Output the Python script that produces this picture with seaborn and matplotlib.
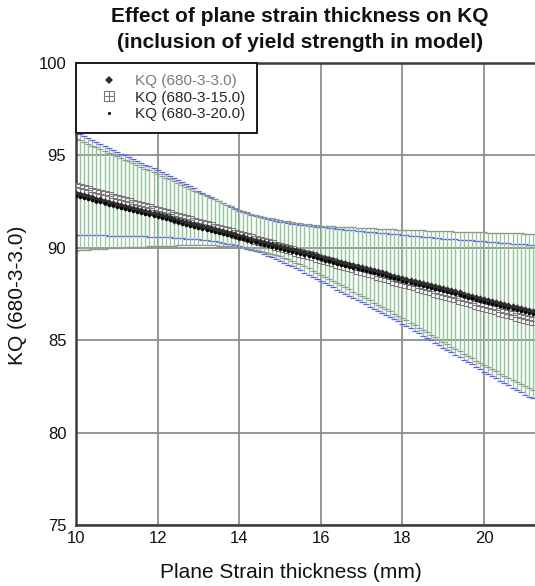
import numpy as np
import pandas as pd
import matplotlib
matplotlib.use("Agg")
import matplotlib.pyplot as plt
import seaborn as sns
from matplotlib.lines import Line2D

# Plane strain thickness (mm), one sample every 0.1 mm
thickness = np.round(np.arange(10.0, 21.25, 0.1), 1)

# KQ (680-3-3.0) predictions
kq_3 = [92.90, 92.84, 92.79, 92.73, 92.67, 92.61, 92.56, 92.50, 92.44, 92.39,
        92.33, 92.27, 92.21, 92.16, 92.10, 92.04, 91.99, 91.93, 91.87, 91.81,
        91.76, 91.70, 91.64, 91.59, 91.53, 91.47, 91.41, 91.36, 91.30, 91.24,
        91.19, 91.13, 91.07, 91.01, 90.96, 90.90, 90.84, 90.79, 90.73, 90.67,
        90.61, 90.56, 90.50, 90.44, 90.39, 90.33, 90.27, 90.21, 90.16, 90.10,
        90.04, 89.99, 89.93, 89.87, 89.81, 89.76, 89.70, 89.64, 89.59, 89.53,
        89.47, 89.41, 89.36, 89.30, 89.24, 89.19, 89.13, 89.07, 89.01, 88.96,
        88.90, 88.84, 88.79, 88.73, 88.67, 88.61, 88.56, 88.50, 88.44, 88.39,
        88.33, 88.27, 88.21, 88.16, 88.10, 88.04, 87.99, 87.93, 87.87, 87.81,
        87.76, 87.70, 87.64, 87.59, 87.53, 87.47, 87.41, 87.36, 87.30, 87.24,
        87.19, 87.13, 87.07, 87.01, 86.96, 86.90, 86.84, 86.79, 86.73, 86.67,
        86.61, 86.56, 86.50]

# KQ (680-3-15.0) predictions
kq_15 = [93.30, 93.24, 93.17, 93.11, 93.04, 92.98, 92.91, 92.85, 92.78, 92.72,
         92.65, 92.59, 92.52, 92.46, 92.39, 92.33, 92.26, 92.20, 92.13, 92.07,
         92.00, 91.94, 91.87, 91.81, 91.74, 91.68, 91.61, 91.55, 91.48, 91.42,
         91.35, 91.29, 91.22, 91.16, 91.09, 91.03, 90.96, 90.90, 90.83, 90.77,
         90.70, 90.64, 90.57, 90.51, 90.44, 90.38, 90.31, 90.25, 90.18, 90.12,
         90.05, 89.99, 89.92, 89.86, 89.79, 89.73, 89.66, 89.60, 89.53, 89.47,
         89.40, 89.34, 89.27, 89.21, 89.14, 89.08, 89.01, 88.95, 88.88, 88.82,
         88.75, 88.69, 88.62, 88.56, 88.49, 88.43, 88.36, 88.30, 88.23, 88.17,
         88.10, 88.04, 87.97, 87.91, 87.84, 87.78, 87.71, 87.65, 87.58, 87.52,
         87.45, 87.39, 87.32, 87.26, 87.19, 87.13, 87.06, 87.00, 86.93, 86.87,
         86.80, 86.74, 86.67, 86.61, 86.54, 86.48, 86.41, 86.35, 86.28, 86.22,
         86.15, 86.09, 86.02]

# KQ (680-3-20.0) predictions
kq_20 = [92.80, 92.74, 92.69, 92.63, 92.57, 92.51, 92.46, 92.40, 92.34, 92.29,
         92.23, 92.17, 92.11, 92.06, 92.00, 91.94, 91.89, 91.83, 91.77, 91.71,
         91.66, 91.60, 91.54, 91.49, 91.43, 91.37, 91.31, 91.26, 91.20, 91.14,
         91.09, 91.03, 90.97, 90.91, 90.86, 90.80, 90.74, 90.69, 90.63, 90.57,
         90.51, 90.46, 90.40, 90.34, 90.29, 90.23, 90.17, 90.11, 90.06, 90.00,
         89.94, 89.89, 89.83, 89.77, 89.71, 89.66, 89.60, 89.54, 89.49, 89.43,
         89.37, 89.31, 89.26, 89.20, 89.14, 89.09, 89.03, 88.97, 88.91, 88.86,
         88.80, 88.74, 88.69, 88.63, 88.57, 88.51, 88.46, 88.40, 88.34, 88.29,
         88.23, 88.17, 88.11, 88.06, 88.00, 87.94, 87.89, 87.83, 87.77, 87.71,
         87.66, 87.60, 87.54, 87.49, 87.43, 87.37, 87.31, 87.26, 87.20, 87.14,
         87.09, 87.03, 86.97, 86.91, 86.86, 86.80, 86.74, 86.69, 86.63, 86.57,
         86.51, 86.46, 86.40]

# Interval around KQ (680-3-15.0): upper / lower limits
kq_15_upper = [96.25, 96.15, 96.04, 95.94, 95.83, 95.73, 95.62, 95.52, 95.41, 95.31,
               95.20, 95.10, 95.00, 94.90, 94.80, 94.70, 94.60, 94.50, 94.40, 94.30,
               94.20, 94.09, 93.98, 93.87, 93.76, 93.65, 93.54, 93.43, 93.32, 93.21,
               93.10, 92.99, 92.88, 92.77, 92.66, 92.55, 92.44, 92.33, 92.22, 92.11,
               92.00, 91.93, 91.86, 91.79, 91.72, 91.65, 91.60, 91.55, 91.50, 91.45,
               91.40, 91.37, 91.34, 91.31, 91.28, 91.25, 91.22, 91.20, 91.17, 91.15,
               91.12, 91.10, 91.08, 91.05, 91.03, 91.01, 90.99, 90.97, 90.94, 90.92,
               90.90, 90.88, 90.86, 90.84, 90.82, 90.80, 90.78, 90.76, 90.74, 90.72,
               90.70, 90.68, 90.66, 90.64, 90.62, 90.60, 90.58, 90.56, 90.54, 90.52,
               90.50, 90.49, 90.47, 90.46, 90.44, 90.43, 90.41, 90.40, 90.38, 90.37,
               90.35, 90.33, 90.32, 90.30, 90.28, 90.27, 90.25, 90.23, 90.21, 90.20,
               90.18, 90.17, 90.15]
kq_15_lower = [90.70, 90.70, 90.69, 90.69, 90.68, 90.68, 90.67, 90.67, 90.66, 90.66,
               90.65, 90.65, 90.64, 90.64, 90.63, 90.63, 90.62, 90.62, 90.61, 90.61,
               90.60, 90.59, 90.57, 90.56, 90.54, 90.53, 90.51, 90.50, 90.48, 90.47,
               90.45, 90.42, 90.40, 90.37, 90.35, 90.32, 90.28, 90.23, 90.19, 90.14,
               90.10, 90.03, 89.96, 89.89, 89.82, 89.75, 89.66, 89.57, 89.48, 89.39,
               89.30, 89.20, 89.09, 88.99, 88.88, 88.78, 88.66, 88.55, 88.43, 88.32,
               88.20, 88.09, 87.97, 87.86, 87.74, 87.63, 87.51, 87.40, 87.28, 87.17,
               87.05, 86.94, 86.82, 86.71, 86.59, 86.48, 86.36, 86.25, 86.13, 86.02,
               85.90, 85.77, 85.64, 85.51, 85.38, 85.25, 85.12, 84.99, 84.86, 84.73,
               84.60, 84.47, 84.34, 84.21, 84.08, 83.95, 83.82, 83.69, 83.56, 83.43,
               83.30, 83.18, 83.05, 82.93, 82.80, 82.68, 82.55, 82.43, 82.30, 82.18,
               82.05, 81.95, 81.85]

# Interval around KQ (680-3-3.0): upper / lower limits
kq_3_upper = [95.90, 95.81, 95.71, 95.62, 95.52, 95.43, 95.33, 95.24, 95.14, 95.05,
              94.95, 94.86, 94.76, 94.67, 94.57, 94.48, 94.38, 94.29, 94.19, 94.10,
              94.00, 93.90, 93.80, 93.70, 93.60, 93.50, 93.40, 93.30, 93.20, 93.10,
              93.00, 92.91, 92.81, 92.72, 92.62, 92.53, 92.43, 92.34, 92.24, 92.15,
              92.05, 91.98, 91.92, 91.85, 91.79, 91.72, 91.68, 91.63, 91.59, 91.54,
              91.50, 91.46, 91.43, 91.39, 91.36, 91.32, 91.30, 91.27, 91.25, 91.22,
              91.20, 91.19, 91.18, 91.16, 91.15, 91.14, 91.13, 91.12, 91.10, 91.09,
              91.08, 91.07, 91.06, 91.05, 91.04, 91.03, 91.02, 91.01, 91.00, 90.99,
              90.98, 90.97, 90.96, 90.96, 90.95, 90.94, 90.93, 90.92, 90.92, 90.91,
              90.90, 90.89, 90.89, 90.88, 90.87, 90.87, 90.86, 90.85, 90.85, 90.84,
              90.83, 90.82, 90.82, 90.81, 90.81, 90.80, 90.79, 90.79, 90.78, 90.78,
              90.77, 90.76, 90.75]
kq_3_lower = [89.85, 89.87, 89.88, 89.90, 89.91, 89.93, 89.94, 89.96, 89.97, 89.99,
              90.00, 90.01, 90.02, 90.03, 90.04, 90.05, 90.06, 90.07, 90.08, 90.09,
              90.10, 90.11, 90.11, 90.12, 90.12, 90.13, 90.13, 90.14, 90.14, 90.15,
              90.15, 90.14, 90.14, 90.13, 90.13, 90.12, 90.11, 90.09, 90.08, 90.06,
              90.05, 90.01, 89.97, 89.93, 89.89, 89.85, 89.79, 89.73, 89.67, 89.61,
              89.55, 89.46, 89.37, 89.28, 89.19, 89.10, 88.99, 88.88, 88.77, 88.66,
              88.55, 88.44, 88.32, 88.21, 88.09, 87.98, 87.86, 87.75, 87.63, 87.52,
              87.40, 87.28, 87.16, 87.04, 86.92, 86.80, 86.68, 86.56, 86.44, 86.32,
              86.20, 86.07, 85.94, 85.81, 85.68, 85.55, 85.42, 85.29, 85.16, 85.03,
              84.90, 84.78, 84.65, 84.53, 84.40, 84.28, 84.15, 84.03, 83.90, 83.78,
              83.65, 83.54, 83.42, 83.31, 83.19, 83.08, 82.96, 82.85, 82.73, 82.62,
              82.50, 82.40, 82.30]

series_labels = ["KQ (680-3-3.0)", "KQ (680-3-15.0)", "KQ (680-3-20.0)"]
x_ticks = [10, 12, 14, 16, 18, 20]
y_ticks = [75, 80, 85, 90, 95, 100]

df = pd.DataFrame({
    "thickness": thickness,
    "kq_3": kq_3, "kq_15": kq_15, "kq_20": kq_20,
    "kq_15_upper": kq_15_upper, "kq_15_lower": kq_15_lower,
    "kq_3_upper": kq_3_upper, "kq_3_lower": kq_3_lower,
})

sns.set_theme(style="white")
plt.rcParams["font.family"] = ["Liberation Sans", "DejaVu Sans"]

W, H = 535, 586
fig = plt.figure(figsize=(W / 100, H / 100), dpi=100)
ax = fig.add_axes([76 / W, 1 - 525 / H, 459 / W, 462 / H])

bar_green = "#94c69c"

# Interval bars: KQ (680-3-15.0) with blue caps
eb15 = ax.errorbar(df["thickness"], df["kq_15"],
                   yerr=[df["kq_15"] - df["kq_15_lower"], df["kq_15_upper"] - df["kq_15"]],
                   fmt="none", ecolor=bar_green, elinewidth=0.9,
                   capsize=2.3, capthick=0.9, zorder=2)
for cap in eb15[1]:
    cap.set_markeredgecolor("#6060f0")

# Interval bars: KQ (680-3-3.0) with grey caps
eb3 = ax.errorbar(df["thickness"], df["kq_3"],
                  yerr=[df["kq_3"] - df["kq_3_lower"], df["kq_3_upper"] - df["kq_3"]],
                  fmt="none", ecolor=bar_green, elinewidth=0.9,
                  capsize=2.3, capthick=0.9, zorder=2)
for cap in eb3[1]:
    cap.set_markeredgecolor("#8c9a8e")

# Point markers
sns.scatterplot(data=df, x="thickness", y="kq_15", marker="s", s=32,
                facecolor="white", edgecolor="#7a7a7a", linewidth=0.8,
                ax=ax, zorder=3, legend=False)
sns.scatterplot(data=df, x="thickness", y="kq_15", marker="+", s=32,
                color="#7a7a7a", linewidth=0.8, ax=ax, zorder=3, legend=False)
sns.scatterplot(data=df, x="thickness", y="kq_3", marker="D", s=18,
                color="#2e2e2e", linewidth=0, ax=ax, zorder=4, legend=False)
sns.scatterplot(data=df, x="thickness", y="kq_20", marker="o", s=5,
                color="black", linewidth=0, ax=ax, zorder=5, legend=False)

ax.set_xlim(10, 21.25)
ax.set_ylim(75, 100)
ax.set_xticks(x_ticks)
ax.set_yticks(y_ticks)
ax.set_xticklabels([str(t) for t in x_ticks])
ax.set_yticklabels([str(t) for t in y_ticks])
ax.grid(True, color="#8e8e8e", linewidth=1.3)
ax.set_axisbelow(True)
ax.tick_params(direction="in", length=7, width=1.6, color="#404040",
               labelsize=12, labelcolor="#111111")
ax.tick_params(axis="y", pad=7)
ax.tick_params(axis="x", pad=4)
for side in ["left", "bottom", "top"]:
    ax.spines[side].set_color("#3c3c3c")
    ax.spines[side].set_linewidth(1.8)
ax.spines["right"].set_visible(False)
ax.set_xlabel("")
ax.set_ylabel("")

# Legend
h_diamond = Line2D([], [], linestyle="none", marker="D", markersize=4.5,
                   color="#2e2e2e", markeredgewidth=0)
h_square = Line2D([], [], linestyle="none", marker="s", markersize=6.5,
                  markerfacecolor="white", markeredgecolor="#7a7a7a", markeredgewidth=0.8)
h_plus = Line2D([], [], linestyle="none", marker="+", markersize=6.5,
                color="#7a7a7a", markeredgewidth=0.8)
h_dot = Line2D([], [], linestyle="none", marker="o", markersize=2.2,
               color="black", markeredgewidth=0)
leg = ax.legend([h_diamond, (h_square, h_plus), h_dot], series_labels,
                loc="upper left", bbox_to_anchor=(0.0, 1.0), borderaxespad=0.0,
                frameon=True, fancybox=False, framealpha=1, edgecolor="#1a1a1a",
                fontsize=11, handlelength=2.8, handletextpad=0.3,
                borderpad=0.75, labelspacing=0.15)
leg.get_frame().set_linewidth(1.4)
leg.set_zorder(10)
leg.get_texts()[0].set_color("#7a7a7a")

# Titles and axis labels
fig.text(300 / W, 1 - 17 / H, "Effect of plane strain thickness on KQ",
         ha="center", va="center", fontsize=15, fontweight="bold", color="#111111")
fig.text(300 / W, 1 - 42 / H, "(inclusion of yield strength in model)",
         ha="center", va="center", fontsize=15, fontweight="bold", color="#111111")
fig.text(291 / W, 1 - 572 / H, "Plane Strain thickness (mm)",
         ha="center", va="center", fontsize=15, color="#111111")
fig.text(18 / W, 1 - 295 / H, "KQ (680-3-3.0)", rotation=90,
         ha="center", va="center", fontsize=15, color="#111111")

fig.savefig("out.png", dpi=100)
